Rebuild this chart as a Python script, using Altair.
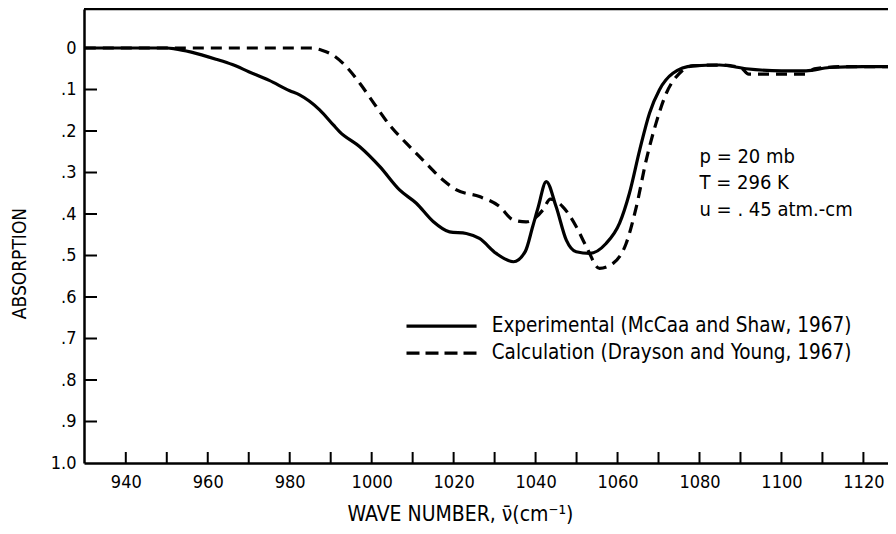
import altair as alt
import pandas as pd

# Experimental (solid)
exp_x = [930, 940, 950, 952, 956, 962, 966, 970, 975, 980, 982.4, 987.3, 990.7, 992.2,
         997.1, 1002, 1006.8, 1010.9, 1015, 1019, 1023.1, 1026.3, 1030.4, 1034.6, 1037.5,
         1039.3, 1040.6, 1042.6, 1045, 1047.5, 1049.9, 1053.2, 1057.2, 1060.5, 1062.9,
         1065.4, 1067.8, 1070.2, 1073.5, 1078.4, 1084.9, 1091.4, 1100, 1106, 1111.7, 1120, 1127]
exp_y = [0, 0, 0, 0.002, 0.01, 0.027, 0.04, 0.057, 0.078, 0.103, 0.113, 0.149, 0.186, 0.202,
         0.238, 0.286, 0.342, 0.374, 0.418, 0.443, 0.447, 0.459, 0.495, 0.515, 0.49,
         0.43, 0.385, 0.322, 0.382, 0.463, 0.491, 0.495, 0.471, 0.422, 0.35,
         0.246, 0.157, 0.101, 0.061, 0.043, 0.041, 0.05, 0.055, 0.055, 0.047, 0.045, 0.045]

# Calculation (dashed)
calc_x = [930, 985, 988, 990.5, 993.8, 997.1, 1001.1, 1004.4, 1008.5, 1012.5, 1017.4, 1020.7,
          1026.3, 1031.2, 1034.5, 1037.7, 1041.8, 1043.6, 1046.6, 1049.9, 1052.4, 1055.6,
          1058.9, 1062.1, 1064.6, 1067, 1069.4, 1071.9, 1075.1, 1078.3, 1085, 1090, 1092,
          1100, 1106, 1108, 1115, 1127]
calc_y = [0, 0, 0.006, 0.017, 0.045, 0.085, 0.141, 0.186, 0.23, 0.27, 0.318, 0.342,
          0.358, 0.382, 0.414, 0.419, 0.39, 0.364, 0.382, 0.43, 0.479, 0.531,
          0.519, 0.471, 0.382, 0.27, 0.181, 0.109, 0.061, 0.043, 0.041, 0.047, 0.063,
          0.063, 0.063, 0.05, 0.045, 0.045]

x_ticks_major = [940, 960, 980, 1000, 1020, 1040, 1060, 1080, 1100, 1120]
x_ticks_all = list(range(940, 1130, 10))
y_ticks = [0, 0.1, 0.2, 0.3, 0.4, 0.5, 0.6, 0.7, 0.8, 0.9, 1.0]
y_minor = [0.1, 0.2, 0.3, 0.4, 0.5, 0.6, 0.7, 0.8, 0.9]

legend_labels = ["Experimental (McCaa and Shaw, 1967)", "Calculation (Drayson and Young, 1967)"]
legend_y = [0.67, 0.735]
legend_x0, legend_x1, legend_tx = 1008.5, 1025.6, 1029.3

cond_lines = ["p = 20 mb", "T = 296 K", "u = . 45 atm.-cm"]
cond_y = [0.263, 0.325, 0.39]
cond_x = 1080

FONT = "DejaVu Sans Condensed"
W, H = 804, 454
XD = [929.8, 1126]
YD = [-0.094, 1.0]

xs = alt.Scale(domain=XD, nice=False, zero=False)
ys = alt.Scale(domain=YD, reverse=True, nice=False, zero=False)

exp_df = pd.DataFrame({"x": exp_x, "y": exp_y})
calc_df = pd.DataFrame({"x": calc_x, "y": calc_y})

label_expr = ("datum.value == 0 ? '0' : (datum.value == 1 ? '1.0' : "
              "replace(format(datum.value, '.1f'), '0.', '.'))")

xaxis = alt.Axis(values=x_ticks_major, format="d", ticks=False, grid=False, domainColor="black",
                 domainWidth=2.5, labelFontSize=18, labelPadding=10, labelColor="black",
                 title="WAVE NUMBER,  \u03bd\u0304(cm\u207b\u00b9)", titleFontSize=21,
                 titleFontWeight="normal", titleColor="black", titleX=376, titleY=57,
                 titleBaseline="alphabetic", titleAlign="center")
yaxis = alt.Axis(values=y_ticks, ticks=False, grid=False, domainColor="black",
                 domainWidth=2.5, labelFontSize=18, labelPadding=8, labelColor="black",
                 labelExpr=label_expr,
                 title="ABSORPTION", titleFontSize=19, titleFontWeight="normal",
                 titleColor="black", titleX=-65, titleY=254, titleBaseline="middle",
                 titleAlign="center", titleAngle=270)

base_solid = alt.Chart(exp_df).mark_line(color="black", strokeWidth=3.2,
                                         interpolate="monotone", clip=True).encode(
    x=alt.X("x:Q", scale=xs, axis=xaxis),
    y=alt.Y("y:Q", scale=ys, axis=yaxis),
)
dashed = alt.Chart(calc_df).mark_line(color="black", strokeWidth=3.2, strokeDash=[11, 7],
                                      interpolate="monotone", clip=True).encode(
    x=alt.X("x:Q", scale=xs), y=alt.Y("y:Q", scale=ys))

xt_df = pd.DataFrame({"x": x_ticks_all})
xticks = alt.Chart(xt_df).mark_rule(color="black", strokeWidth=2).encode(
    x=alt.X("x:Q", scale=xs), y=alt.value(H), y2=alt.value(H - 11))
yt_df = pd.DataFrame({"y": y_minor})
yticks = alt.Chart(yt_df).mark_rule(color="black", strokeWidth=2).encode(
    y=alt.Y("y:Q", scale=ys), x=alt.value(0), x2=alt.value(13))
top = alt.Chart(pd.DataFrame({"y": [YD[0]]})).mark_rule(color="black", strokeWidth=2.5).encode(
    y=alt.Y("y:Q", scale=ys), x=alt.value(0), x2=alt.value(W))

leg_df = pd.DataFrame({"x": [legend_x0] * 2, "x2": [legend_x1] * 2, "y": legend_y,
                       "tx": [legend_tx] * 2, "label": legend_labels})
leg_solid = alt.Chart(leg_df.iloc[[0]]).mark_rule(color="black", strokeWidth=3.2).encode(
    x=alt.X("x:Q", scale=xs), x2="x2:Q", y=alt.Y("y:Q", scale=ys))
leg_dash = alt.Chart(leg_df.iloc[[1]]).mark_rule(color="black", strokeWidth=3.2,
                                                 strokeDash=[13, 6]).encode(
    x=alt.X("x:Q", scale=xs), x2="x2:Q", y=alt.Y("y:Q", scale=ys))
leg_text = alt.Chart(leg_df).mark_text(align="left", baseline="middle", fontSize=20.5,
                                       font=FONT, color="black").encode(
    x=alt.X("tx:Q", scale=xs), y=alt.Y("y:Q", scale=ys), text="label:N")

cond_df = pd.DataFrame({"x": [cond_x] * 3, "y": cond_y, "t": cond_lines})
cond = alt.Chart(cond_df).mark_text(align="left", baseline="middle", fontSize=20,
                                    font=FONT, color="black").encode(
    x=alt.X("x:Q", scale=xs), y=alt.Y("y:Q", scale=ys), text="t:N")

chart = alt.layer(base_solid, dashed, xticks, yticks, top, leg_solid, leg_dash, leg_text, cond).properties(
    width=W, height=H,
    autosize=alt.AutoSizeParams(type="none"),
    padding={"left": 76, "top": 1, "right": 0, "bottom": 63},
    background="white",
).configure_view(stroke=None).configure(font=FONT)

chart.save("out.html", embed_options={"renderer": "svg", "actions": False})
